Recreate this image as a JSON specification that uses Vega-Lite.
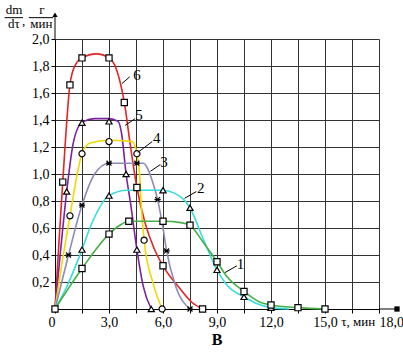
{
  "$schema": "https://vega.github.io/schema/vega-lite/v6.json",
  "width": 324,
  "height": 270,
  "autosize": "none",
  "padding": {"left": 55, "top": 39, "right": 24, "bottom": 46},
  "background": "white",
  "title": {"text": "В", "orient": "bottom", "anchor": "middle", "font": "Liberation Serif", "fontSize": 16, "fontWeight": "bold", "color": "black", "offset": 3},
  "config": {
    "view": {"stroke": null},
    "font": "Liberation Serif",
    "axis": {
      "domainColor": "black",
      "domainWidth": 1,
      "tickColor": "black",
      "tickSize": 4,
      "gridColor": "#333333",
      "gridWidth": 1,
      "gridOpacity": 1,
      "labelFont": "Liberation Serif",
      "labelFontSize": 14,
      "labelColor": "black",
      "labelOverlap": false,
      "labelBound": false,
      "labelFlush": false,
      "title": null
    }
  },
  "datasets": {
    "curves": [
      {"s": "6", "x": 0, "y": 0}, {"s": "6", "x": 0.2, "y": 0.45}, {"s": "6", "x": 0.43, "y": 0.94}, {"s": "6", "x": 0.83, "y": 1.66}, {"s": "6", "x": 1.1, "y": 1.8}, {"s": "6", "x": 1.5, "y": 1.86}, {"s": "6", "x": 2.3, "y": 1.89}, {"s": "6", "x": 3.0, "y": 1.86}, {"s": "6", "x": 3.4, "y": 1.78}, {"s": "6", "x": 3.85, "y": 1.53}, {"s": "6", "x": 4.2, "y": 1.2}, {"s": "6", "x": 4.55, "y": 0.9}, {"s": "6", "x": 5.0, "y": 0.64}, {"s": "6", "x": 5.5, "y": 0.45}, {"s": "6", "x": 6.0, "y": 0.32}, {"s": "6", "x": 6.95, "y": 0.15}, {"s": "6", "x": 7.6, "y": 0.05}, {"s": "6", "x": 8.2, "y": 0},
      {"s": "5", "x": 0, "y": 0}, {"s": "5", "x": 0.3, "y": 0.42}, {"s": "5", "x": 0.65, "y": 0.87}, {"s": "5", "x": 1.0, "y": 1.22}, {"s": "5", "x": 1.3, "y": 1.35}, {"s": "5", "x": 1.6, "y": 1.39}, {"s": "5", "x": 2.2, "y": 1.41}, {"s": "5", "x": 3.0, "y": 1.41}, {"s": "5", "x": 3.5, "y": 1.39}, {"s": "5", "x": 3.7, "y": 1.3}, {"s": "5", "x": 3.95, "y": 1.0}, {"s": "5", "x": 4.2, "y": 0.78}, {"s": "5", "x": 4.55, "y": 0.44}, {"s": "5", "x": 4.9, "y": 0.17}, {"s": "5", "x": 5.35, "y": 0},
      {"s": "4", "x": 0, "y": 0}, {"s": "4", "x": 0.4, "y": 0.35}, {"s": "4", "x": 0.83, "y": 0.69}, {"s": "4", "x": 1.5, "y": 1.15}, {"s": "4", "x": 1.95, "y": 1.23}, {"s": "4", "x": 3.0, "y": 1.25}, {"s": "4", "x": 4.3, "y": 1.24}, {"s": "4", "x": 4.55, "y": 1.15}, {"s": "4", "x": 4.7, "y": 1.0}, {"s": "4", "x": 4.8, "y": 0.75}, {"s": "4", "x": 4.95, "y": 0.51}, {"s": "4", "x": 5.45, "y": 0.19}, {"s": "4", "x": 5.95, "y": 0},
      {"s": "3", "x": 0, "y": 0}, {"s": "3", "x": 0.75, "y": 0.4}, {"s": "3", "x": 1.5, "y": 0.77}, {"s": "3", "x": 2.2, "y": 1.0}, {"s": "3", "x": 3.0, "y": 1.08}, {"s": "3", "x": 4.9, "y": 1.08}, {"s": "3", "x": 5.45, "y": 0.93}, {"s": "3", "x": 5.7, "y": 0.81}, {"s": "3", "x": 6.0, "y": 0.6}, {"s": "3", "x": 6.2, "y": 0.43}, {"s": "3", "x": 6.7, "y": 0.17}, {"s": "3", "x": 7.5, "y": 0},
      {"s": "2", "x": 0, "y": 0}, {"s": "2", "x": 0.6, "y": 0.15}, {"s": "2", "x": 1.5, "y": 0.44}, {"s": "2", "x": 2.0, "y": 0.62}, {"s": "2", "x": 3.0, "y": 0.84}, {"s": "2", "x": 4.0, "y": 0.88}, {"s": "2", "x": 6.0, "y": 0.88}, {"s": "2", "x": 6.6, "y": 0.86}, {"s": "2", "x": 7.5, "y": 0.75}, {"s": "2", "x": 8.2, "y": 0.53}, {"s": "2", "x": 9.0, "y": 0.29}, {"s": "2", "x": 9.6, "y": 0.17}, {"s": "2", "x": 10.5, "y": 0.09}, {"s": "2", "x": 11.2, "y": 0.04}, {"s": "2", "x": 12.0, "y": 0.01}, {"s": "2", "x": 13.0, "y": 0},
      {"s": "1", "x": 0, "y": 0}, {"s": "1", "x": 1.5, "y": 0.3}, {"s": "1", "x": 3.0, "y": 0.555}, {"s": "1", "x": 3.6, "y": 0.62}, {"s": "1", "x": 4.1, "y": 0.65}, {"s": "1", "x": 6.0, "y": 0.65}, {"s": "1", "x": 7.0, "y": 0.64}, {"s": "1", "x": 7.5, "y": 0.62}, {"s": "1", "x": 8.2, "y": 0.5}, {"s": "1", "x": 9.0, "y": 0.35}, {"s": "1", "x": 9.55, "y": 0.24}, {"s": "1", "x": 10.5, "y": 0.13}, {"s": "1", "x": 11.4, "y": 0.05}, {"s": "1", "x": 12.0, "y": 0.03}, {"s": "1", "x": 13.5, "y": 0.01}, {"s": "1", "x": 15.0, "y": 0}
    ],
    "markers": [
      {"s": "6", "m": "square", "x": 0.43, "y": 0.94}, {"s": "6", "m": "square", "x": 0.83, "y": 1.66}, {"s": "6", "m": "square", "x": 1.5, "y": 1.86}, {"s": "6", "m": "square", "x": 3.0, "y": 1.86}, {"s": "6", "m": "square", "x": 3.85, "y": 1.53}, {"s": "6", "m": "square", "x": 4.55, "y": 0.9}, {"s": "6", "m": "square", "x": 6.0, "y": 0.32}, {"s": "6", "m": "square", "x": 8.2, "y": 0},
      {"s": "5", "m": "triangle", "x": 0.65, "y": 0.87}, {"s": "5", "m": "triangle", "x": 1.5, "y": 1.38}, {"s": "5", "m": "triangle", "x": 3.0, "y": 1.39}, {"s": "5", "m": "triangle", "x": 3.95, "y": 1.0}, {"s": "5", "m": "triangle", "x": 4.55, "y": 0.44}, {"s": "5", "m": "triangle", "x": 5.35, "y": 0},
      {"s": "4", "m": "circle", "x": 0.83, "y": 0.69}, {"s": "4", "m": "circle", "x": 1.5, "y": 1.15}, {"s": "4", "m": "circle", "x": 3.0, "y": 1.24}, {"s": "4", "m": "circle", "x": 4.55, "y": 1.15}, {"s": "4", "m": "circle", "x": 4.95, "y": 0.51}, {"s": "4", "m": "circle", "x": 5.95, "y": 0},
      {"s": "3", "m": "star", "x": 0.75, "y": 0.4}, {"s": "3", "m": "star", "x": 1.5, "y": 0.77}, {"s": "3", "m": "star", "x": 3.0, "y": 1.08}, {"s": "3", "m": "star", "x": 4.55, "y": 1.08}, {"s": "3", "m": "star", "x": 5.7, "y": 0.81}, {"s": "3", "m": "star", "x": 6.2, "y": 0.43}, {"s": "3", "m": "star", "x": 7.5, "y": 0},
      {"s": "2", "m": "triangle", "x": 1.5, "y": 0.44}, {"s": "2", "m": "triangle", "x": 3.0, "y": 0.84}, {"s": "2", "m": "triangle", "x": 6.0, "y": 0.88}, {"s": "2", "m": "triangle", "x": 7.5, "y": 0.75}, {"s": "2", "m": "triangle", "x": 9.0, "y": 0.29}, {"s": "2", "m": "triangle", "x": 10.5, "y": 0.09}, {"s": "2", "m": "triangle", "x": 12.0, "y": 0.01},
      {"s": "1", "m": "square", "x": 0, "y": 0}, {"s": "1", "m": "square", "x": 1.5, "y": 0.3}, {"s": "1", "m": "square", "x": 3.0, "y": 0.555}, {"s": "1", "m": "square", "x": 4.1, "y": 0.65}, {"s": "1", "m": "square", "x": 6.0, "y": 0.65}, {"s": "1", "m": "square", "x": 7.5, "y": 0.62}, {"s": "1", "m": "square", "x": 9.0, "y": 0.35}, {"s": "1", "m": "square", "x": 10.5, "y": 0.13}, {"s": "1", "m": "square", "x": 12.0, "y": 0.03}, {"s": "1", "m": "square", "x": 13.5, "y": 0.01}, {"s": "1", "m": "square", "x": 15.0, "y": 0}
    ],
    "tags": [
      {"t": "6", "x": 4.55, "y": 1.73},
      {"t": "5", "x": 4.67, "y": 1.44},
      {"t": "4", "x": 5.65, "y": 1.27},
      {"t": "3", "x": 6.05, "y": 1.09},
      {"t": "2", "x": 8.1, "y": 0.9},
      {"t": "1", "x": 10.3, "y": 0.33}
    ],
    "notes": [
      {"t": "dm", "x": -2.28, "y": 2.188},
      {"t": "dτ", "x": -2.28, "y": 2.08},
      {"t": ",", "x": -1.75, "y": 2.106},
      {"t": "г", "x": -0.72, "y": 2.188},
      {"t": "мин", "x": -0.76, "y": 2.08},
      {"t": "τ, мин", "x": 16.85, "y": -0.125}
    ],
    "strokes": [
      {"x": 3.72, "y": 1.67, "x2": 4.15, "y2": 1.72},
      {"x": 3.9, "y": 1.36, "x2": 4.45, "y2": 1.41},
      {"x": 4.6, "y": 1.16, "x2": 5.4, "y2": 1.24},
      {"x": 5.3, "y": 1.02, "x2": 5.85, "y2": 1.07},
      {"x": 7.2, "y": 0.82, "x2": 7.85, "y2": 0.87},
      {"x": 9.45, "y": 0.27, "x2": 10.1, "y2": 0.32},
      {"x": 18, "y": 0, "x2": 19.0, "y2": 0},
      {"x": 0, "y": 2, "x2": 0, "y2": 2.18},
      {"x": -2.8, "y": 2.158, "x2": -1.78, "y2": 2.158},
      {"x": -1.45, "y": 2.158, "x2": -0.1, "y2": 2.158}
    ],
    "heads": [
      {"h": "right", "x": 19.0, "y": 0},
      {"h": "up", "x": 0, "y": 2.18}
    ]
  },
  "encoding": {
    "x": {
      "field": "x", "type": "quantitative",
      "scale": {"domain": [0, 18], "nice": false, "zero": true},
      "axis": {
        "values": [0, 1.5, 3, 4.5, 6, 7.5, 9, 10.5, 12, 13.5, 15, 16.5, 18],
        "labelExpr": "datum.value % 3 == 0 ? (datum.value == 0 ? '0' : replace(format(datum.value, '.1f'), '.', ',')) : ''",
        "labelAlign": {"condition": [{"test": "datum.value == 0", "value": "right"}, {"test": "datum.value == 18", "value": "left"}], "value": "center"},
        "labelPadding": 2,
        "grid": true
      }
    },
    "y": {
      "field": "y", "type": "quantitative",
      "scale": {"domain": [0, 2], "nice": false, "zero": true},
      "axis": {
        "values": [0, 0.2, 0.4, 0.6, 0.8, 1.0, 1.2, 1.4, 1.6, 1.8, 2.0],
        "labelExpr": "datum.value == 0 ? '' : replace(format(datum.value, '.1f'), '.', ',')",
        "labelPadding": 2,
        "grid": true
      }
    }
  },
  "layer": [
    {
      "data": {"name": "curves"},
      "mark": {"type": "line", "interpolate": "monotone", "strokeWidth": 1.6},
      "encoding": {
        "color": {
          "field": "s", "type": "nominal",
          "scale": {"domain": ["1", "2", "3", "4", "5", "6"], "range": ["#46b046", "#38dcdc", "#8c8cb8", "#f2d800", "#7a22a0", "#e32424"]},
          "legend": null
        }
      }
    },
    {
      "data": {"name": "markers"},
      "mark": {"type": "point", "filled": true, "fill": "white", "stroke": "black", "strokeWidth": 1.2, "size": 38, "opacity": 1},
      "encoding": {
        "shape": {
          "field": "m", "type": "nominal",
          "scale": {"domain": ["square", "triangle", "circle", "star"], "range": ["square", "triangle-up", "circle", "M-0.8,-0.8L0.8,0.8M-0.8,0.8L0.8,-0.8M-1,0L1,0"]},
          "legend": null
        }
      }
    },
    {
      "data": {"name": "strokes"},
      "mark": {"type": "rule", "color": "black", "strokeWidth": 1},
      "encoding": {
        "x2": {"field": "x2"},
        "y2": {"field": "y2"}
      }
    },
    {
      "data": {"name": "heads"},
      "mark": {"type": "point", "filled": true, "color": "black", "size": 28, "opacity": 1},
      "encoding": {
        "shape": {
          "field": "h", "type": "nominal",
          "scale": {"domain": ["right", "up"], "range": ["triangle-right", "triangle-up"]},
          "legend": null
        }
      }
    },
    {
      "data": {"name": "tags"},
      "mark": {"type": "text", "font": "Liberation Serif", "fontSize": 15, "color": "black", "align": "center", "baseline": "middle"},
      "encoding": {"text": {"field": "t"}}
    },
    {
      "data": {"name": "notes"},
      "mark": {"type": "text", "font": "Liberation Serif", "fontSize": 13, "color": "black", "align": "center", "baseline": "alphabetic"},
      "encoding": {"text": {"field": "t"}}
    }
  ]
}
